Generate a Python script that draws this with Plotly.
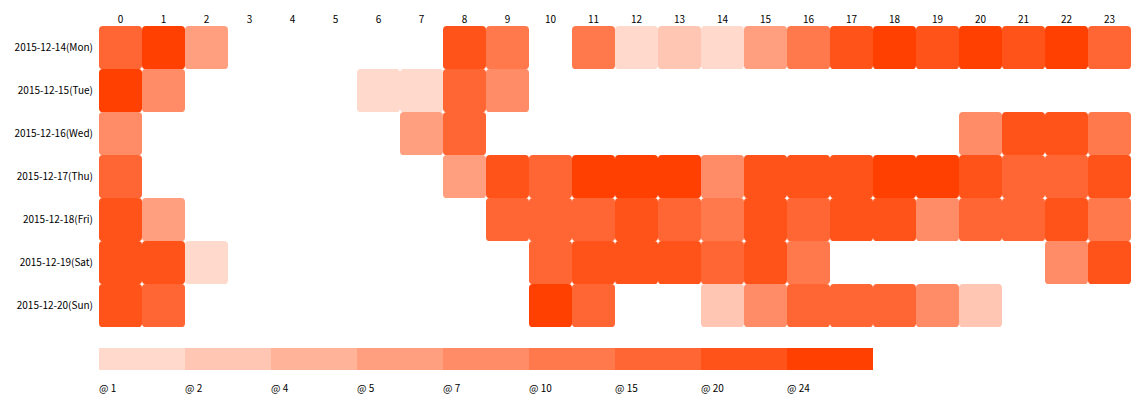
import plotly.graph_objects as go

# ---- data ----
days = ["2015-12-14(Mon)", "2015-12-15(Tue)", "2015-12-16(Wed)", "2015-12-17(Thu)",
        "2015-12-18(Fri)", "2015-12-19(Sat)", "2015-12-20(Sun)"]
hours = list(range(24))
N = None
mon = [17, 26, 6, N, N, N, N, N, 22, 12, N, 12, 1, 3, 1, 6, 12, 22, 26, 22, 26, 22, 26, 17]
tue = [26, 8, N, N, N, N, 1, 1, 17, 8, N, N, N, N, N, N, N, N, N, N, N, N, N, N]
wed = [8, N, N, N, N, N, N, 6, 17, N, N, N, N, N, N, N, N, N, N, N, 8, 22, 22, 12]
thu = [17, N, N, N, N, N, N, N, 6, 22, 17, 26, 26, 26, 8, 22, 22, 22, 26, 26, 22, 17, 17, 22]
fri = [22, 6, N, N, N, N, N, N, N, 17, 17, 17, 22, 17, 12, 22, 17, 22, 22, 8, 17, 17, 22, 12]
sat = [22, 22, 1, N, N, N, N, N, N, N, 17, 22, 22, 22, 17, 22, 12, N, N, N, N, N, 8, 22]
sun = [22, 17, N, N, N, N, N, N, N, N, 26, 17, N, N, 3, 8, 17, 17, 17, 8, 3, N, N, N]
values = [mon, tue, wed, thu, fri, sat, sun]

thresholds = [1, 2, 4, 5, 7, 10, 15, 20, 24]
legend_labels = ["@ " + str(t) for t in thresholds]
palette = ["#FFD9CC", "#FFC6B3", "#FFB399", "#FF9F80", "#FF8C66",
           "#FF794D", "#FF6633", "#FF531A", "#FF4000"]


def color_for(v):
    idx = 0
    for i, t in enumerate(thresholds):
        if v >= t:
            idx = i
    return palette[idx]


# ---- layout geometry (page offset of 8px compensated) ----
OFF = 8
W, H = 1140 - OFF, 398 - OFF
mt, mb, ml, mr = 26 - OFF, 0, 99 - OFF, 9
ph = H - mt - mb
main_bottom = (H - mb - (327 - OFF)) / ph
leg_y0 = (H - mb - (370 - OFF)) / ph
leg_y1 = (H - mb - (348 - OFF)) / ph
lab_y = (H - mb - (387 - OFF)) / ph

fig = go.Figure()

# invisible heatmap for hover
fig.add_trace(go.Heatmap(
    x=hours, y=list(range(len(days))), z=values,
    customdata=[[d] * 24 for d in days],
    colorscale=[[0, "rgba(0,0,0,0)"], [1, "rgba(0,0,0,0)"]],
    showscale=False, opacity=0,
    hovertemplate="%{customdata} %{x}:00<br>%{z}<extra></extra>",
    xaxis="x", yaxis="y",
))

# rounded cells
r = 0.09
shapes = []
for j, row in enumerate(values):
    for i, v in enumerate(row):
        if v is None:
            continue
        x0, x1 = hours[i] - 0.5, hours[i] + 0.5
        y0, y1 = j - 0.5, j + 0.5
        path = (f"M {x0 + r},{y0} L {x1 - r},{y0} Q {x1},{y0} {x1},{y0 + r} "
                f"L {x1},{y1 - r} Q {x1},{y1} {x1 - r},{y1} "
                f"L {x0 + r},{y1} Q {x0},{y1} {x0},{y1 - r} "
                f"L {x0},{y0 + r} Q {x0},{y0} {x0 + r},{y0} Z")
        shapes.append(dict(type="path", path=path, xref="x", yref="y",
                           fillcolor=color_for(v), line=dict(width=0), layer="above"))

# legend bar
fig.add_trace(go.Heatmap(
    x=list(range(len(thresholds))), y=[0], z=[list(range(len(thresholds)))],
    colorscale=[[k / (len(palette) - 1), c] for k, c in enumerate(palette)],
    zmin=0, zmax=len(palette) - 1, showscale=False,
    text=[legend_labels], hovertemplate="%{text}<extra></extra>",
    xaxis="x2", yaxis="y2",
))

annotations = []
for k, lab in enumerate(legend_labels):
    annotations.append(dict(x=k - 0.5, y=lab_y, xref="x2", yref="paper",
                            text=lab, showarrow=False, xanchor="left", yanchor="middle",
                            xshift=-2, font=dict(size=10, color="#000")))

fig.update_layout(
    width=W, height=H,
    margin=dict(l=ml, r=mr, t=mt, b=mb),
    paper_bgcolor="white", plot_bgcolor="white",
    font=dict(family="Noto Sans CJK JP, DejaVu Sans, sans-serif", size=10, color="#000"),
    xaxis=dict(side="top", range=[-0.5, 23.5], tickvals=hours,
               ticktext=[str(h) for h in hours], showgrid=False, zeroline=False,
               showline=False, ticks="", domain=[0, 1], anchor="y",
               fixedrange=True),
    yaxis=dict(range=[6.5, -0.5], tickvals=list(range(len(days))), ticktext=days,
               showgrid=False, zeroline=False, showline=False, ticks="",
               ticklabelstandoff=5,
               domain=[main_bottom, 1], anchor="x", fixedrange=True),
    xaxis2=dict(range=[-0.5, len(thresholds) - 0.5], domain=[0, 9 * 86 / 1032],
                showticklabels=False, showgrid=False, zeroline=False, anchor="y2",
                fixedrange=True),
    yaxis2=dict(range=[-0.5, 0.5], domain=[leg_y0, leg_y1], showticklabels=False,
                showgrid=False, zeroline=False, anchor="x2", fixedrange=True),
    shapes=shapes,
    annotations=annotations,
    showlegend=False,
)

fig.write_html("out.html")
